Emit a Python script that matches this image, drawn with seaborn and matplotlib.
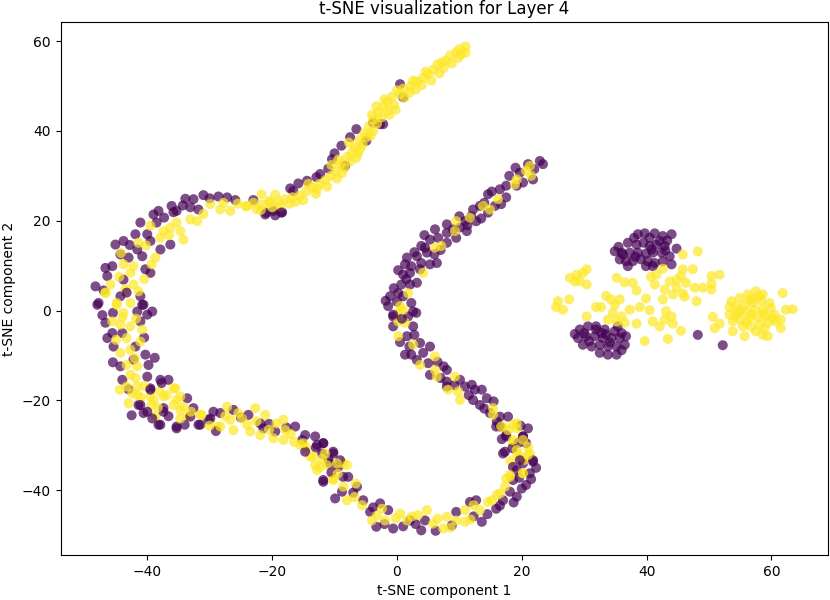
import matplotlib
matplotlib.use("Agg")
import matplotlib.pyplot as plt
import seaborn as sb
import pandas as pd

# points, (x, y) per region and class
# class 0 = purple, class 1 = yellow

top_arm_0 = [(0.5, 50.4), (1, 47.5), (-2.7, 41.5), (-2.2, 41.5), (-6.5, 40.4), (-4.9, 37.8),
             (-7.5, 38.6), (-8.9, 36.7), (-10.4, 33.7), (-8.3, 32.2), (-12.3, 30.4), (-12.9, 29.7),
             (-15.8, 28.3), (-17.1, 27.2), (-23, 24.6), (-21.1, 21.4), (-19.8, 22.2), (-18.4, 21.9),
             (-20.9, 21.8), (-16.6, 26.6), (-3.8, 41.8), (-10, 35), (-11, 31.6), (-14.4, 28.9),
             (-19.5, 21.2)]
top_arm_1 = [(11, 58.8), (10, 58.2), (9.5, 57.5), (11, 57.4), (8.5, 56.8), (9.8, 56.2), (7.8, 55.6),
             (8.8, 55), (6.5, 54.8), (7.5, 54), (5.8, 53.6), (6.8, 52.8), (5, 52.6), (4.2, 51.8),
             (5.5, 51.2), (3.2, 51), (4, 50.2), (2.2, 50), (3, 49.2), (1, 49.4), (2, 48.5), (0.5, 48.2),
             (1.2, 47.4), (-0.8, 47.6), (-1.5, 46.5), (-0.5, 45.8), (-2.2, 45.4), (-1.5, 44.5),
             (-3, 44), (-2.5, 43), (-3.8, 42.5), (-3.2, 41.6), (-4.5, 41), (-3.8, 40), (-5.2, 39.5),
             (-4.8, 38.6), (-6, 38), (-5.5, 37), (-6.8, 36.4), (-7.2, 35.2), (-6.2, 35), (-8, 34.2),
             (-7.5, 33.2), (-9, 32.6), (-8.4, 31.8), (-9.8, 31), (-10.6, 30), (-9.6, 29.4),
             (-11.5, 29), (-12.4, 28.2), (-11.2, 27.6), (-13.5, 27.4), (-14.5, 26.6), (-13, 26),
             (-15.6, 25.6), (-16.8, 25.2), (-15, 24.6), (-18, 24.8), (-19, 24.2), (-17.2, 23.8),
             (-20.5, 24.4), (-21.6, 23.6), (-20, 23), (-23, 24), (-24.2, 23.2), (-22.5, 22.6),
             (-19.5, 25.8), (-14.2, 28.2), (-10.5, 32.4), (-3.3, 45.5), (-24, 23.3), (-21.7, 25.9),
             (-20.3, 24), (10.3, 57), (7.2, 55.2), (4.6, 53.2), (2.6, 51.2), (0, 49), (-2, 47),
             (-1.2, 43.6), (-4.2, 39), (-6.5, 34), (-8.8, 30.6), (-12.8, 27), (-16.2, 24.2),
             (-18.6, 23.2), (-21.8, 22.4), (-7.7, 37.4), (-5.9, 36), (-9.4, 33.6), (-4, 43.6),
             (-0.2, 44.7)]

left_top_0 = [(-33.9, 24.9), (-32.6, 24.8), (-31, 25.7), (-28.6, 25.4), (-27.2, 25.2), (-25.9, 24.6),
              (-18.5, 21.8), (-33.1, 23), (-31.8, 22.5), (-35.3, 22.2), (-36.1, 23.3), (-38.2, 22.2),
              (-39, 21.4), (-38.5, 19.6), (-41.1, 19.6), (-40, 17), (-41.9, 17), (-43.8, 15.5),
              (-45.1, 14.7), (-44.3, 12.5), (-41.6, 13.6), (-40.8, 12.1), (-37.9, 13.6), (-36.3, 14.7),
              (-35.8, 21.9), (-46.7, 9.5), (-45.6, 9.9), (-48.3, 5.4), (-46.4, 7.7), (-43.8, 6.9),
              (-40.3, 9.2), (-39.5, 8.4), (-44.3, 3.2), (-41.1, 3.2), (-47.8, 1.7), (-40.6, 1.3),
              (-47, 4.5), (-43, 11.8), (-42.8, 14.6), (-39.5, 15.5), (-37.3, 20.7), (-34.3, 23.4),
              (-30, 25)]
left_top_1 = [(-29.9, 23.7), (-28.3, 22.5), (-26.7, 22.2), (-33.1, 20.3), (-32, 19.9), (-35.3, 19.6),
              (-34.7, 17.7), (-34.2, 15.8), (-37.4, 17.7), (-36.3, 18.5), (-37.9, 16.2), (-39.5, 18.9),
              (-41.4, 15.1), (-38.7, 11.8), (-39.3, 10.3), (-43.8, 10.3), (-42.2, 9.9), (-42.7, 8.4),
              (-45.9, 5.8), (-46.7, 3.9), (-42.2, 5.8), (-41.4, 4.3), (-44.9, 1.7), (-42.7, 1.7),
              (-43.5, 4.8), (-44.5, 7.5), (-40.5, 7), (-40.2, 14.5), (-36.5, 16.8), (-31, 21.5),
              (-27.8, 24), (-25.5, 23.8), (-44.2, 12.8)]

left_low_0 = [(-48, 1.3), (-46.7, -2.7), (-46.4, -6.1), (-45.4, -8), (-45.6, -5), (-44, -5),
              (-41.6, -0.2), (-40, -0.9), (-39.2, -0.2), (-41.1, -2.4), (-43.3, 4), (-40.8, 1.3),
              (-41.9, -8), (-40.3, -9.8), (-39.8, -12.1), (-44.3, -12.4), (-44, -15.4), (-42.2, -10.9),
              (-40, -14.7), (-37.9, -15.4), (-36.6, -15.4), (-39.5, -17.3), (-41.4, -21), (-40.6, -22.8),
              (-38.2, -25.4), (-37.4, -21.7), (-35.3, -25.8), (-33.6, -19.5), (-36.6, -23.5),
              (-32.6, -21.7), (-31.8, -25.4), (-30.2, -24.3), (-29.4, -22.5), (-45.5, -0.5),
              (-45.5, -11.5), (-43, -17.5), (-38.8, -10.5), (-40.5, -6), (-47.2, -1), (-42.5, -23.3)]
left_low_1 = [(-46.7, 4), (-44.9, 1.3), (-43.8, -0.5), (-45.6, -2.4), (-42.7, -3.5), (-44.3, -3.1),
              (-40.8, -4.2), (-43.3, -6.1), (-41.1, -6.9), (-44.3, -9.4), (-42.7, -8.7), (-43.3, -12.1),
              (-41.6, -12.4), (-42.7, -14.3), (-41.9, -15), (-43.3, -16.9), (-42.4, -18.4), (-43, -20.6),
              (-39.3, -21), (-39.5, -19.1), (-38.7, -23.5), (-35.5, -17.3), (-35.3, -19.9), (-34.7, -22.1),
              (-37.4, -19.1), (-31.5, -23.2), (-28.8, -25.8), (-33.6, -23.5), (-44, -1.5), (-41.8, -1.8),
              (-45, -6.5), (-42, -10.6), (-40.5, -16.8), (-44.4, -17.6), (-41, -19.3), (-38, -18)]

bottom_left_0 = [(-33.1, -23.6), (-31.5, -25.4), (-29.9, -24), (-28.3, -22.8), (-26.2, -22.1),
                 (-23.8, -23.2), (-21.9, -25.1), (-21.4, -26.2), (-19.5, -26.9), (-16.3, -25.8),
                 (-14.7, -27.7), (-13.1, -28), (-11.8, -29.5), (-12, -31.8), (-10.2, -31.4),
                 (-10.7, -34), (-9.4, -34.8), (-11.8, -37.7), (-8.6, -37), (-37.9, -25.4),
                 (-35.3, -26.2), (-37.4, -22.5), (-41.1, -21), (-40, -22.5), (-37.7, -16.1), (-39.5, -17.6),
                 (-34, -25.4), (-29, -26.8), (-25, -23.8), (-20.5, -25.2), (-17.7, -26), (-15.2, -28.8),
                 (-12.8, -29.9), (-11, -33), (-39.2, -24)]
bottom_left_1 = [(-41.6, -18.8), (-39, -19.9), (-35.8, -21), (-34.2, -21.4), (-34.7, -24), (-31.3, -23.2),
                 (-27.2, -21.4), (-28.3, -25.8), (-26.7, -24.3), (-25.4, -22.8), (-26.2, -26.6),
                 (-24, -25.4), (-22.7, -21.7), (-21.1, -23.2), (-23.5, -26.9), (-21.9, -27.7),
                 (-19.3, -25.1), (-18.2, -24.3), (-19.8, -28.4), (-17.9, -26.6), (-18.2, -28.8),
                 (-15.5, -29.9), (-13.9, -32.5), (-13.1, -34.4), (-12.8, -35.5), (-11.2, -34.4),
                 (-10.2, -37.4), (-8.6, -34), (-41.6, -16.9), (-35.8, -17.3), (-34.7, -19.1), (-36.9, -18.8),
                 (-30, -25.6), (-27.5, -23.5), (-24.8, -24), (-22.5, -24.6), (-20.5, -26.5), (-17, -27.5),
                 (-16.5, -29.2), (-14.5, -30.5), (-12, -33), (-33, -22.5), (-38.3, -21.6)]

bottom_0 = [(-14.7, -31.4), (-11.8, -29.5), (-10.2, -31.8), (-9.1, -33.3), (-11.8, -38.1), (-7.8, -37),
            (-6.4, -39.2), (-9.9, -41.8), (-5.4, -42.2), (-4.3, -44.8), (-2.7, -42.9), (-1.4, -44.4),
            (-3.3, -48.1), (-0.6, -48.5), (2.1, -46.7), (3.9, -48.9), (4.5, -46.7), (9.5, -44.8),
            (11.7, -42.6), (12.7, -42.2), (13.6, -47), (15.9, -44.1), (17, -42.2), (18.1, -40.3),
            (19.2, -41.4), (17, -31.8), (17.5, -28), (20.2, -28), (19.2, -35.5), (20.7, -38.8),
            (18.6, -37.7), (20.2, -34), (15.9, -25.8), (21.8, -33.6), (-13, -30.5), (-10.5, -36),
            (-7, -40.5), (-8.8, -40.3), (-3.8, -43.8), (-2, -47.5), (1, -48), (6.2, -49), (3, -47.5),
            (8.8, -47.8), (12.3, -45.8), (14.5, -45.3), (16.5, -43.4), (18.7, -42.7), (20, -39.6),
            (21.5, -37.5), (19.6, -37.2), (21, -26.2), (19.8, -25.6)]
bottom_1 = [(-15, -29.5), (-13.4, -32.5), (-12.3, -34.8), (-11.5, -31.8), (-9.6, -34), (-8, -34.4),
            (-10.2, -37.7), (-8.6, -39.2), (-8, -42.2), (-5.6, -43.3), (-4, -46.7), (-2.4, -44.1),
            (-1.9, -46.7), (0.5, -45.2), (1.6, -46.7), (3.4, -45.5), (4.8, -44.4), (5.8, -47.4),
            (7.4, -48.5), (8, -45.9), (9.5, -46.7), (10.9, -47), (10.9, -44.4), (13.3, -44.4),
            (14.6, -42.6), (15.2, -42.2), (16.5, -40.7), (17.5, -37.4), (18.1, -37), (19.2, -31.8),
            (19.7, -32.5), (18.6, -29.5), (21.3, -31.8), (17, -25.8), (19.2, -25.1), (20.2, -36.2),
            (-6.8, -41.5), (-3.2, -45.6), (-0.2, -46.2), (2.4, -45.8), (6.5, -46.3), (8.6, -48.3),
            (11.8, -46.5), (12.3, -43.3), (16, -41), (17.3, -39.2), (18.2, -33.5), (20.5, -33.2),
            (-9.5, -36.3), (-6.6, -38.5)]

mid_low_0 = [(-0.6, -1.3), (-0.6, -3.5), (1.8, -1.3), (2.6, -3.5), (1.6, -5.7), (1.3, -9.8), (2.3, -9.8),
             (3.7, -7.2), (4.2, -9.4), (5.3, -8), (5, -11.7), (7.5, -12.4), (8, -13.2), (5.3, -14.3),
             (8, -15.8), (10.1, -15.4), (10.9, -16.9), (12.5, -17.6), (13.6, -17.6), (12.2, -19.9),
             (14.4, -19.5), (13.3, -21), (14.9, -22.8), (16.5, -23.6), (17.8, -23.6), (16.5, -25.8),
             (17.5, -27.7), (17.3, -31.4), (20.2, -28), (20.7, -29.5), (21.8, -33.3), (19.7, -33.3),
             (18.6, -34.8), (21.3, -36.2), (8, -16.9), (3.1, -0.5), (0.5, -7), (2.8, -5.4), (3.2, -11),
             (6.5, -11.4), (7, -15), (9.2, -16.6), (11.5, -18.8), (12, -16.5), (14, -21.8), (15.5, -20.2),
             (16, -24.7), (18.5, -30.6), (19.5, -29.4), (22.3, -35), (16.8, -28.6), (2, -8)]
mid_low_1 = [(0.2, -5.7), (0.2, -2.4), (1.3, -2.7), (2.6, -7.6), (3.7, -12.1), (6.1, -10.2), (6.1, -13.2),
             (6.4, -14.7), (9.3, -14.7), (8.2, -17.6), (9.8, -18), (10.1, -19.9), (15.4, -21.7),
             (15.4, -23.2), (16.7, -25.8), (17.8, -26.6), (18.6, -25.4), (19.2, -26.2), (18.6, -28.8),
             (20.2, -28.8), (19.2, -31), (21, -30.3), (21, -32.1), (18.1, -36.6), (20.2, -36.2), (0.5, -0.2)]

mid_up_0 = [(-1.1, 3.2), (-1.4, 1), (-0.6, -0.9), (1, 3.2), (2.3, 1.7), (2.6, -0.2), (0.2, 3.9), (0.7, 5.8),
            (2.1, 5.8), (3.2, 6.2), (1, 8), (2.1, 8.4), (1.3, 10.3), (2.3, 9.9), (1.6, 11.8), (3.2, 12.1),
            (3.9, 10.6), (5.3, 10.3), (6.4, 10.6), (4.8, 12.9), (3.9, 14.4), (5.3, 15.8), (6.6, 16.2),
            (8, 17.3), (8, 15.1), (9, 18.1), (10.1, 18.5), (11.2, 17.7), (10.9, 19.9), (11.9, 21),
            (12.2, 22.5), (12.7, 19.9), (13.3, 23.3), (14.6, 25.9), (14.6, 21.8), (15.7, 23.3),
            (16.5, 27), (17.5, 27.8), (16.7, 23.7), (17.5, 25.2), (19.2, 27.8), (19.7, 30.7),
            (20.2, 28.5), (21, 32.6), (22.9, 33.3), (23.4, 32.6), (21.8, 29.2), (3.7, 9.2),
            (6.1, 18.1), (8, 19.2), (0, 2), (-0.5, 5), (1.5, 7), (0.2, 9), (2.8, 13), (4.5, 14),
            (6, 12.5), (7, 13.5), (9.5, 16.2), (11.3, 19), (13.5, 20.5), (15.2, 26.5), (18, 30),
            (19, 31.8), (22, 31.5), (14, 24), (10, 21), (-1.8, 2.2), (0.8, -1.8), (4.4, 16.8)]
mid_up_1 = [(1.8, 3.9), (0.5, 1), (1, 0.2), (4.2, 8.4), (6.1, 14), (7.1, 14.4), (9.3, 17.7), (9.5, 19.9),
            (11.7, 20.7), (13.8, 23.3), (14.9, 22.5), (16.2, 24.8), (18.9, 28.1), (19.2, 29.2),
            (20.7, 31.1), (21.5, 30), (21.3, 32.2)]

right_0 = [(38.6, 17.0), (39.7, 17.2), (41.3, 17.2), (42.6, 16.6), (44.0, 17.0), (37.0, 15.1), (38.4, 14.7),
           (39.5, 15.1), (40.5, 14.4), (41.6, 14.7), (42.9, 14.4), (44.8, 13.8), (34.9, 13.2), (36.0, 12.9),
           (37.3, 12.9), (38.6, 12.9), (39.9, 12.7), (41.0, 12.9), (42.4, 12.9), (43.7, 12.1), (35.7, 11.4),
           (36.7, 11.0), (37.8, 11.0), (39.1, 11.4), (40.2, 11.0), (41.3, 10.6), (42.6, 11.0), (44.0, 10.3),
           (37.0, 9.9), (39.9, 9.9), (41.0, 9.9), (36.2, 12.5), (40.5, 16.2), (42.1, 15.5),
           (38, 16.2), (43.3, 15.6), (35.5, 14.2), (40.8, 13.6), (38.2, 12), (43, 13.4),
           (29.3, -4.2), (30.6, -3.5), (31.9, -3.5), (33.3, -4.2), (34.9, -4.6), (36.0, -5.0), (29.0, -6.1),
           (30.3, -5.7), (31.7, -5.7), (33.0, -6.1), (34.4, -6.1), (35.7, -6.1), (36.7, -5.7), (29.8, -7.6),
           (31.2, -8.0), (32.5, -7.6), (33.8, -8.0), (35.2, -8.0), (36.5, -7.6), (32.5, -9.4), (33.8, -9.8),
           (35.2, -9.8), (31.9, -4.2), (33.5, -5.3), (35.4, -3.5), (30.8, -6.8), (34.1, -7.1), (32.8, -5),
           (30, -5), (36, -8.8), (28.5, -5.2), (48.2, -5.4), (52.2, -7.7)]
right_1 = [(27.7, 7.3), (28.8, 8.0), (29.8, 8.4), (30.4, 9.2), (29.3, 6.5), (30.4, 5.8), (28.5, 6.5),
           (25.8, 2.1), (25.5, 0.8), (26.6, 0.2), (27.6, 2.5),
           (35.2, 7.3), (36.5, 6.3), (37.8, 6.2), (38.4, 4.5), (33.5, 3.3), (34.3, 2.5), (35.7, 2.5),
           (34.9, 1.3), (31.9, 0.8), (32.7, 0.8), (37.3, 0.2), (38.9, 0.8), (39.9, 2.7), (40.5, 0.1),
           (34.6, -0.5), (36.0, -1.3), (33.8, -2.0), (35.2, -2.4), (36.5, -2.7), (38.4, -2.9), (30.4, -1.3),
           (41.0, -2.4), (42.1, -3.5), (43.1, -0.1), (44.0, -1.3), (42.9, -2.0), (44.2, -2.9), (45.5, -4.5),
           (39.7, -6.8), (43.4, -6.3), (40.7, 7.5), (41.6, 8.0), (42.6, 9.3), (41.3, 5.8), (42.9, 4.7),
           (43.7, 6.5), (44.8, 6.9), (45.5, 7.7), (45.8, 9.2), (46.3, 6.2), (47.4, 9.2), (45.8, 12.5),
           (48.2, 13.2), (44.8, 5.1), (46.1, 3.1), (48.0, 2.1), (47.7, 5.1), (49.0, 5.1), (50.4, 4.7),
           (50.4, 7.7), (51.7, 8.0), (50.4, 6.0), (42.6, 2.5), (44.2, 3.6), (45.8, 3.8),
           (53.6, 2.1), (54.9, 2.8), (56.2, 3.6), (57.5, 4.3), (58.6, 3.6), (54.4, 0.8), (55.7, 1.3),
           (57.0, 1.7), (58.4, 2.1), (59.7, 1.7), (53.3, -0.9), (54.6, -0.5), (55.9, -0.1), (57.3, 0.2),
           (58.6, 0.2), (59.9, 0.6), (53.8, -2.4), (55.1, -2.0), (56.5, -1.6), (57.8, -1.6), (59.1, -1.3),
           (60.5, -0.9), (55.4, -3.5), (56.7, -3.5), (58.1, -3.1), (59.4, -2.7), (60.7, -2.4), (61.8, 3.9),
           (62.3, 0.2), (63.4, 0.3), (61.5, -2.0), (61.5, -3.9), (58.6, -5.4), (59.4, -5.7), (55.7, -5.7),
           (53.8, -4.6), (50.6, -1.4), (50.9, -3.9), (51.7, -2.9), (53.3, 0.8), (58.1, 3.2), (56.5, 2.5),
           (58.9, -3.9), (57.5, -4.6), (55, 0), (56.8, -0.8), (58.8, -0.6), (54.2, -1.2), (57.2, 2.6),
           (60.2, -1.7), (56, -2.6)]

regions = [(top_arm_0, top_arm_1), (left_top_0, left_top_1), (left_low_0, left_low_1),
           (bottom_left_0, bottom_left_1), (bottom_0, bottom_1), (mid_low_0, mid_low_1),
           (mid_up_0, mid_up_1), (right_0, right_1)]

rows = []
for purple, yellow in regions:
    for x, y in purple:
        rows.append({'x': x, 'y': y, 'label': 0})
    for x, y in yellow:
        rows.append({'x': x, 'y': y, 'label': 1})
df = pd.DataFrame(rows)

fig, ax = plt.subplots(figsize=(8.3, 6.0), dpi=100)
sb.scatterplot(data=df, x='x', y='y', hue='label', palette={0: '#440154', 1: '#fde725'},
               alpha=0.7, s=52, linewidth=0, legend=False, ax=ax)
ax.set_title('t-SNE visualization for Layer 4')
ax.set_xlabel('t-SNE component 1')
ax.set_ylabel('t-SNE component 2')
fig.subplots_adjust(left=0.073, right=0.997, top=0.963, bottom=0.075)
fig.savefig('out.png')
